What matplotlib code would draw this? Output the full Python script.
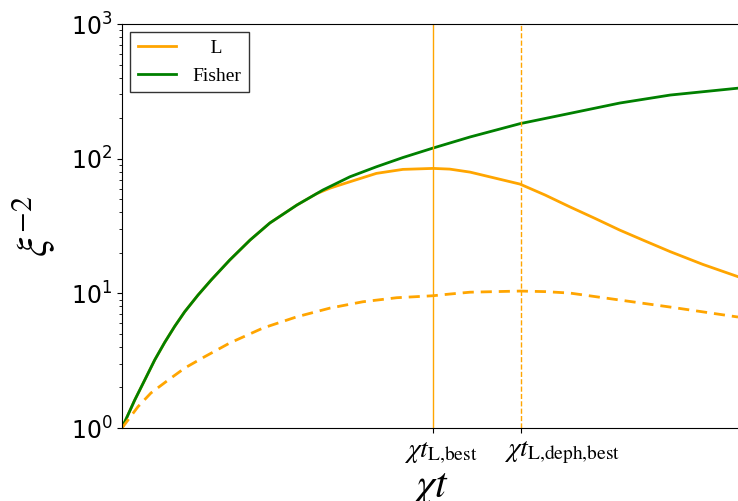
import numpy as np
import matplotlib
matplotlib.use('Agg')
from matplotlib import pyplot as plt
from matplotlib.transforms import ScaledTranslation

# values (x in units of the plotted range)
x_fisher = [0.0, 0.0206, 0.0369, 0.0531, 0.0693, 0.0856, 0.1018, 0.1234, 0.145, 0.175, 0.208,
            0.240, 0.284, 0.326, 0.370, 0.413, 0.456, 0.505, 0.565, 0.646, 0.727, 0.808, 0.890, 1.0]
fisher = [1.0, 1.61, 2.27, 3.20, 4.32, 5.69, 7.30, 9.71, 12.6, 17.7, 24.9,
          33.3, 45.3, 58.5, 73.4, 87.1, 102, 120, 145, 182, 217, 259, 297, 334]

x_L = [0.0, 0.0206, 0.0369, 0.0531, 0.0693, 0.0856, 0.1018, 0.1234, 0.145, 0.175, 0.208,
       0.240, 0.284, 0.316, 0.338, 0.370, 0.413, 0.456, 0.505, 0.532, 0.565, 0.646, 0.687,
       0.727, 0.768, 0.808, 0.849, 0.890, 0.943, 1.0]
L = [1.0, 1.61, 2.27, 3.20, 4.32, 5.69, 7.30, 9.71, 12.6, 17.7, 24.9,
     33.3, 45.3, 55.0, 60.5, 67.4, 77.8, 83.3, 84.7, 83.7, 79.5, 64.8, 53.7,
     43.9, 36.0, 29.5, 24.5, 20.4, 16.4, 13.3]

x_deph = [0.0, 0.026, 0.047, 0.075, 0.102, 0.134, 0.175, 0.229, 0.284, 0.338, 0.391,
          0.446, 0.505, 0.532, 0.565, 0.646, 0.687, 0.727, 0.808, 0.890, 1.0]
L_deph = [1.0, 1.44, 1.82, 2.27, 2.79, 3.38, 4.28, 5.53, 6.70, 7.78, 8.66,
          9.28, 9.60, 9.88, 10.2, 10.4, 10.3, 10.05, 8.92, 7.91, 6.67]

t_best = 0.505
t_deph_best = 0.648
tick_labels = [r'$\chi t_{\mathrm{L{,}best}}$', r'$\chi t_{\mathrm{L{,}deph{,}best}}$']

fig = plt.figure(figsize=(7.38, 5.01), dpi=100)
ax = fig.add_axes([0.1653, 0.1457, 0.8347, 0.8063])

ax.plot(x_L, L, color='orange', lw=2, label='L')
ax.plot(x_fisher, fisher, color='green', lw=2, label='Fisher')
ax.plot(x_deph, L_deph, color='orange', lw=2, ls='--', dashes=(4, 2.5))
ax.axvline(t_best, color='orange', lw=1)
ax.axvline(t_deph_best, color='orange', lw=1, ls='--')

ax.set_yscale('log')
ax.set_ylim(1, 1000)
ax.set_xlim(0, 1)
ax.spines['right'].set_visible(False)

ax.set_xticks([t_best, t_deph_best])
ax.set_xticklabels(tick_labels, math_fontfamily='stix', fontsize=20)
# labels in the reference sit to the right of their ticks
for lab, dx in zip(ax.get_xticklabels(), [8, 41]):
    lab.set_transform(lab.get_transform() + ScaledTranslation(dx / 100, 0, fig.dpi_scale_trans))
ax.tick_params(axis='y', labelsize=17)

ax.set_xlabel(r'$\chi t$', math_fontfamily='stix', fontsize=30, labelpad=0)
ax.set_ylabel(r'$\xi^{-2}$', math_fontfamily='stix', fontsize=31, labelpad=10)

leg = ax.legend(loc='upper left', fancybox=False, edgecolor='black', borderaxespad=0.4,
                prop={'family': 'Liberation Serif', 'size': 14})
leg.get_frame().set_linewidth(1)
leg.get_texts()[0].set_text('   \u2009L')

fig.savefig('out.png', dpi=100)
